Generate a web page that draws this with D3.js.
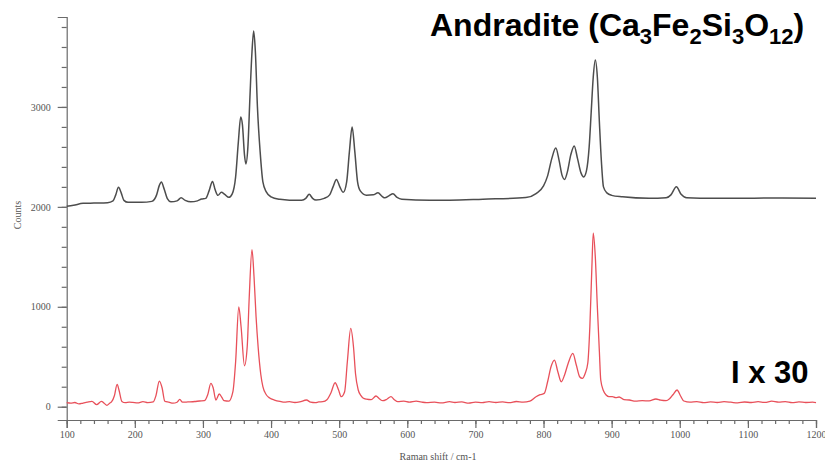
<!DOCTYPE html>
<html>
<head>
<meta charset="utf-8">
<script src="https://cdn.jsdelivr.net/npm/d3@7"></script>
<style>
html,body{margin:0;padding:0;background:#fff;}
svg{display:block;}
</style>
</head>
<body>
<svg id="chart" width="825" height="463"></svg>
<script>
// ---- Data ----
const blackShift = [100,110,124,140,160,168,172,176,180,184,190,210,225,232,236,239,243,248,253,262,268,274,282,292,298,304,309,314,318,322,327,332,338,343,348,352,355.5,358,361,363,366,369,372,374.5,377,380,384,388,393,400,413,427,445,451,456,461,466,478,486,491,496,501,506,511,515,519,523,527,531,540,550,557,563,567,573,579,585,592,633,662,711,774,789,800,806,812,818,823,827,831,835,840,845,850,855,859,863,867,870,873,876,879,882,885,888,893,900,916,955,980,987,995,1002,1010,1050,1100,1150,1200];
const blackCounts = [2005,2015,2035,2038,2042,2060,2120,2195,2140,2065,2045,2045,2055,2120,2215,2250,2180,2080,2050,2060,2090,2065,2050,2060,2078,2085,2160,2255,2170,2115,2145,2125,2095,2130,2300,2650,2900,2820,2520,2430,2600,3100,3550,3760,3550,3000,2550,2250,2150,2100,2075,2067,2067,2085,2125,2085,2068,2085,2120,2200,2275,2200,2145,2250,2550,2800,2550,2250,2160,2117,2120,2140,2105,2090,2110,2132,2095,2077,2067,2067,2077,2093,2133,2210,2310,2480,2590,2460,2320,2275,2350,2520,2610,2480,2340,2300,2360,2600,2950,3300,3470,3300,2850,2450,2200,2140,2115,2100,2085,2090,2120,2200,2125,2090,2085,2087,2088,2085];

const redShift = [100,106,112,118,124,130,137,144,151,155,159,163,166,170,174,177,181,186,192,197,204,212,219,227,231,236,240,244,250,256,262,266,270,278,288,295,302,307,311.6,315,319,324,328,331,338,344,348,352.6,356,361,365,368,372,375,378,381,385,388,393,398,405,413,420,427,435,442,452,458,465,470,476,482,488,494,499,503,508,512,517,521,524,528,532,535,540,547,554,559,564,570,576,581,586,595,603,613,620,628,640,650,662,670,680,690,700,710,720,730,740,750,760,770,780,789,795,801,806,811,816,821,826,831,836,843,848,853,857,861,865,868,871,873,876,879,882,884,888,892,896,901,906,911,918,926,935,945,955,965,972,980,985,990,996,1001,1006,1015,1025,1035,1045,1055,1065,1075,1085,1095,1105,1115,1125,1135,1145,1155,1165,1175,1185,1195,1200];
const redCounts = [40,35,42,28,37,45,53,20,53,35,13,35,50,110,223,160,53,40,45,43,38,50,40,48,110,257,190,55,45,35,45,73,45,48,52,57,60,120,233,190,67,127,90,60,55,150,450,1000,800,410,600,1100,1573,1300,900,600,320,200,120,87,67,53,45,50,42,48,67,45,40,48,50,70,140,240,170,100,150,450,783,600,330,167,110,87,75,70,107,80,60,75,100,70,50,55,45,55,48,40,45,38,50,42,48,35,45,40,50,42,48,40,52,45,55,100,120,133,250,400,467,350,250,320,430,533,420,300,283,330,437,800,1400,1737,1500,1000,550,267,160,117,100,100,90,97,70,67,55,60,58,77,65,60,80,120,167,110,57,45,50,40,48,42,50,45,38,47,42,50,43,55,45,50,40,48,42,45,40];

const xMajorTicks = [100,200,300,400,500,600,700,800,900,1000,1100,1200];
const yMajorTicks = [0,1000,2000,3000];

// ---- Layout ----
const svg = d3.select("#chart");
const x = d3.scaleLinear().domain([100,1200]).range([66.7,816]);
const y = d3.scaleLinear().domain([-133,3900]).range([420,17]);

const axisColor = "#6a6a6a";
const tickFont = "'Liberation Serif','DejaVu Serif',serif";

const gxMinor = svg.append("g").attr("transform","translate(0,420)")
  .call(d3.axisBottom(x).tickValues(d3.range(100,1201,20)).tickSize(4).tickFormat(""));
const gx = svg.append("g").attr("transform","translate(0,420)")
  .call(d3.axisBottom(x).tickValues(xMajorTicks).tickSize(8).tickPadding(3).tickFormat(d3.format("d")));

const gyMinor = svg.append("g").attr("transform","translate(66.7,0)")
  .call(d3.axisLeft(y).tickValues(d3.range(0,3801,200)).tickSize(5).tickFormat(""));
const gy = svg.append("g").attr("transform","translate(66.7,0)")
  .call(d3.axisLeft(y).tickValues(yMajorTicks).tickSize(9).tickPadding(7).tickFormat(d3.format("d")));

[gxMinor,gx,gyMinor,gy].forEach(g=>{
  g.selectAll("path,line").attr("stroke",axisColor).attr("stroke-width",1.2);
  g.selectAll("text").attr("fill","#555").style("font-family",tickFont).style("font-size","10px");
});
gyMinor.select(".domain").remove();
gxMinor.select(".domain").remove();

svg.append("text").attr("transform","translate(21,215) rotate(-90)")
  .attr("text-anchor","middle").attr("fill","#555")
  .style("font-family",tickFont).style("font-size","10px").text("Counts");
svg.append("text").attr("x",438).attr("y",460)
  .attr("text-anchor","middle").attr("fill","#555")
  .style("font-family",tickFont).style("font-size","10px").text("Raman shift / cm-1");

// ---- Lines ----
const line = d3.line().x(d=>x(d[0])).y(d=>y(d[1])).curve(d3.curveMonotoneX);
const blackData = d3.zip(blackShift, blackCounts);
const redData = d3.zip(redShift, redCounts);

svg.append("path").datum(blackData).attr("d",line)
  .attr("fill","none").attr("stroke","#4d4d4d").attr("stroke-width",1.5);
svg.append("path").datum(redData).attr("d",line)
  .attr("fill","none").attr("stroke","#e8505a").attr("stroke-width",1.3);

// ---- Annotations ----
const title = svg.append("text").attr("x",430).attr("y",36)
  .style("font-family","'Liberation Sans',Arial,sans-serif").style("font-weight","bold")
  .style("font-size","32px").attr("fill","#000");
const parts = [["Andradite (Ca",false],["3",true],["Fe",false],["2",true],["Si",false],["3",true],["O",false],["12",true],[")",false]];
let sub = false;
parts.forEach(([t,isSub])=>{
  const ts = title.append("tspan").text(t);
  if(isSub && !sub){ ts.attr("dy",8).style("font-size","22px"); sub=true; }
  else if(isSub){ ts.style("font-size","22px"); }
  else if(!isSub && sub){ ts.attr("dy",-8); sub=false; }
});

svg.append("text").attr("x",731).attr("y",383)
  .style("font-family","'Liberation Sans',Arial,sans-serif").style("font-weight","bold")
  .style("font-size","31px").attr("fill","#000").text("I x 30");
</script>
</body>
</html>
